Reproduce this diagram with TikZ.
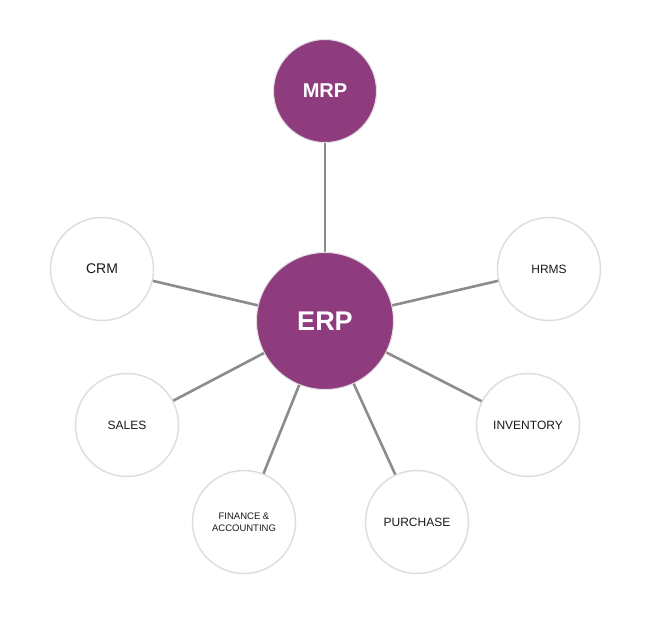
\documentclass[tikz,border=0pt]{standalone}
\usepackage{fontspec}
\setmainfont{Liberation Sans}
\definecolor{erppurple}{HTML}{8F3C7F}
\definecolor{spoke}{HTML}{8C8C8C}
\definecolor{rim}{HTML}{DEDEDE}
\tikzset{
  hub/.style={circle,fill=erppurple,draw=rim,line width=1pt,inner sep=0pt,
    text=white,font=\bfseries},
  module/.style={circle,fill=white,draw=rim,line width=1.5pt,inner sep=0pt,
    minimum size=103pt,text=black!90,align=center},
}
\begin{document}
\begin{tikzpicture}[x=1pt,y=-1pt]
      \useasboundingbox (0,0) rectangle (653,624);
      \draw
        (325,321) node[hub,minimum size=137pt,font=\bfseries\fontsize{27}{30}\selectfont] (erp){ERP}
        (325,91) node[hub,minimum size=103pt,font=\bfseries\fontsize{20}{24}\selectfont] (mrp){MRP}
        (102,269) node[module,font=\fontsize{14}{16}\selectfont] (crm){CRM}
        (549,269) node[module,font=\fontsize{12}{14}\selectfont] (hrms){HRMS}
        (127,425) node[module,font=\fontsize{12}{14}\selectfont] (sales){SALES}
        (528,425) node[module,font=\fontsize{12}{14}\selectfont] (inventory){INVENTORY}
        (244,522) node[module,font=\fontsize{9.5}{12}\selectfont] (finance){FINANCE \&\\ACCOUNTING}
        (417,522) node[module,font=\fontsize{12}{14}\selectfont] (purchase){PURCHASE};
      \begin{scope}[spoke,line width=2.6pt]
        \draw (erp) to (mrp);
        \draw (erp) to (crm);
        \draw (erp) to (hrms);
        \draw (erp) to (sales);
        \draw (erp) to (inventory);
        \draw (erp) to (finance);
        \draw (erp) to (purchase);
      \end{scope}
    \end{tikzpicture}
\end{document}
